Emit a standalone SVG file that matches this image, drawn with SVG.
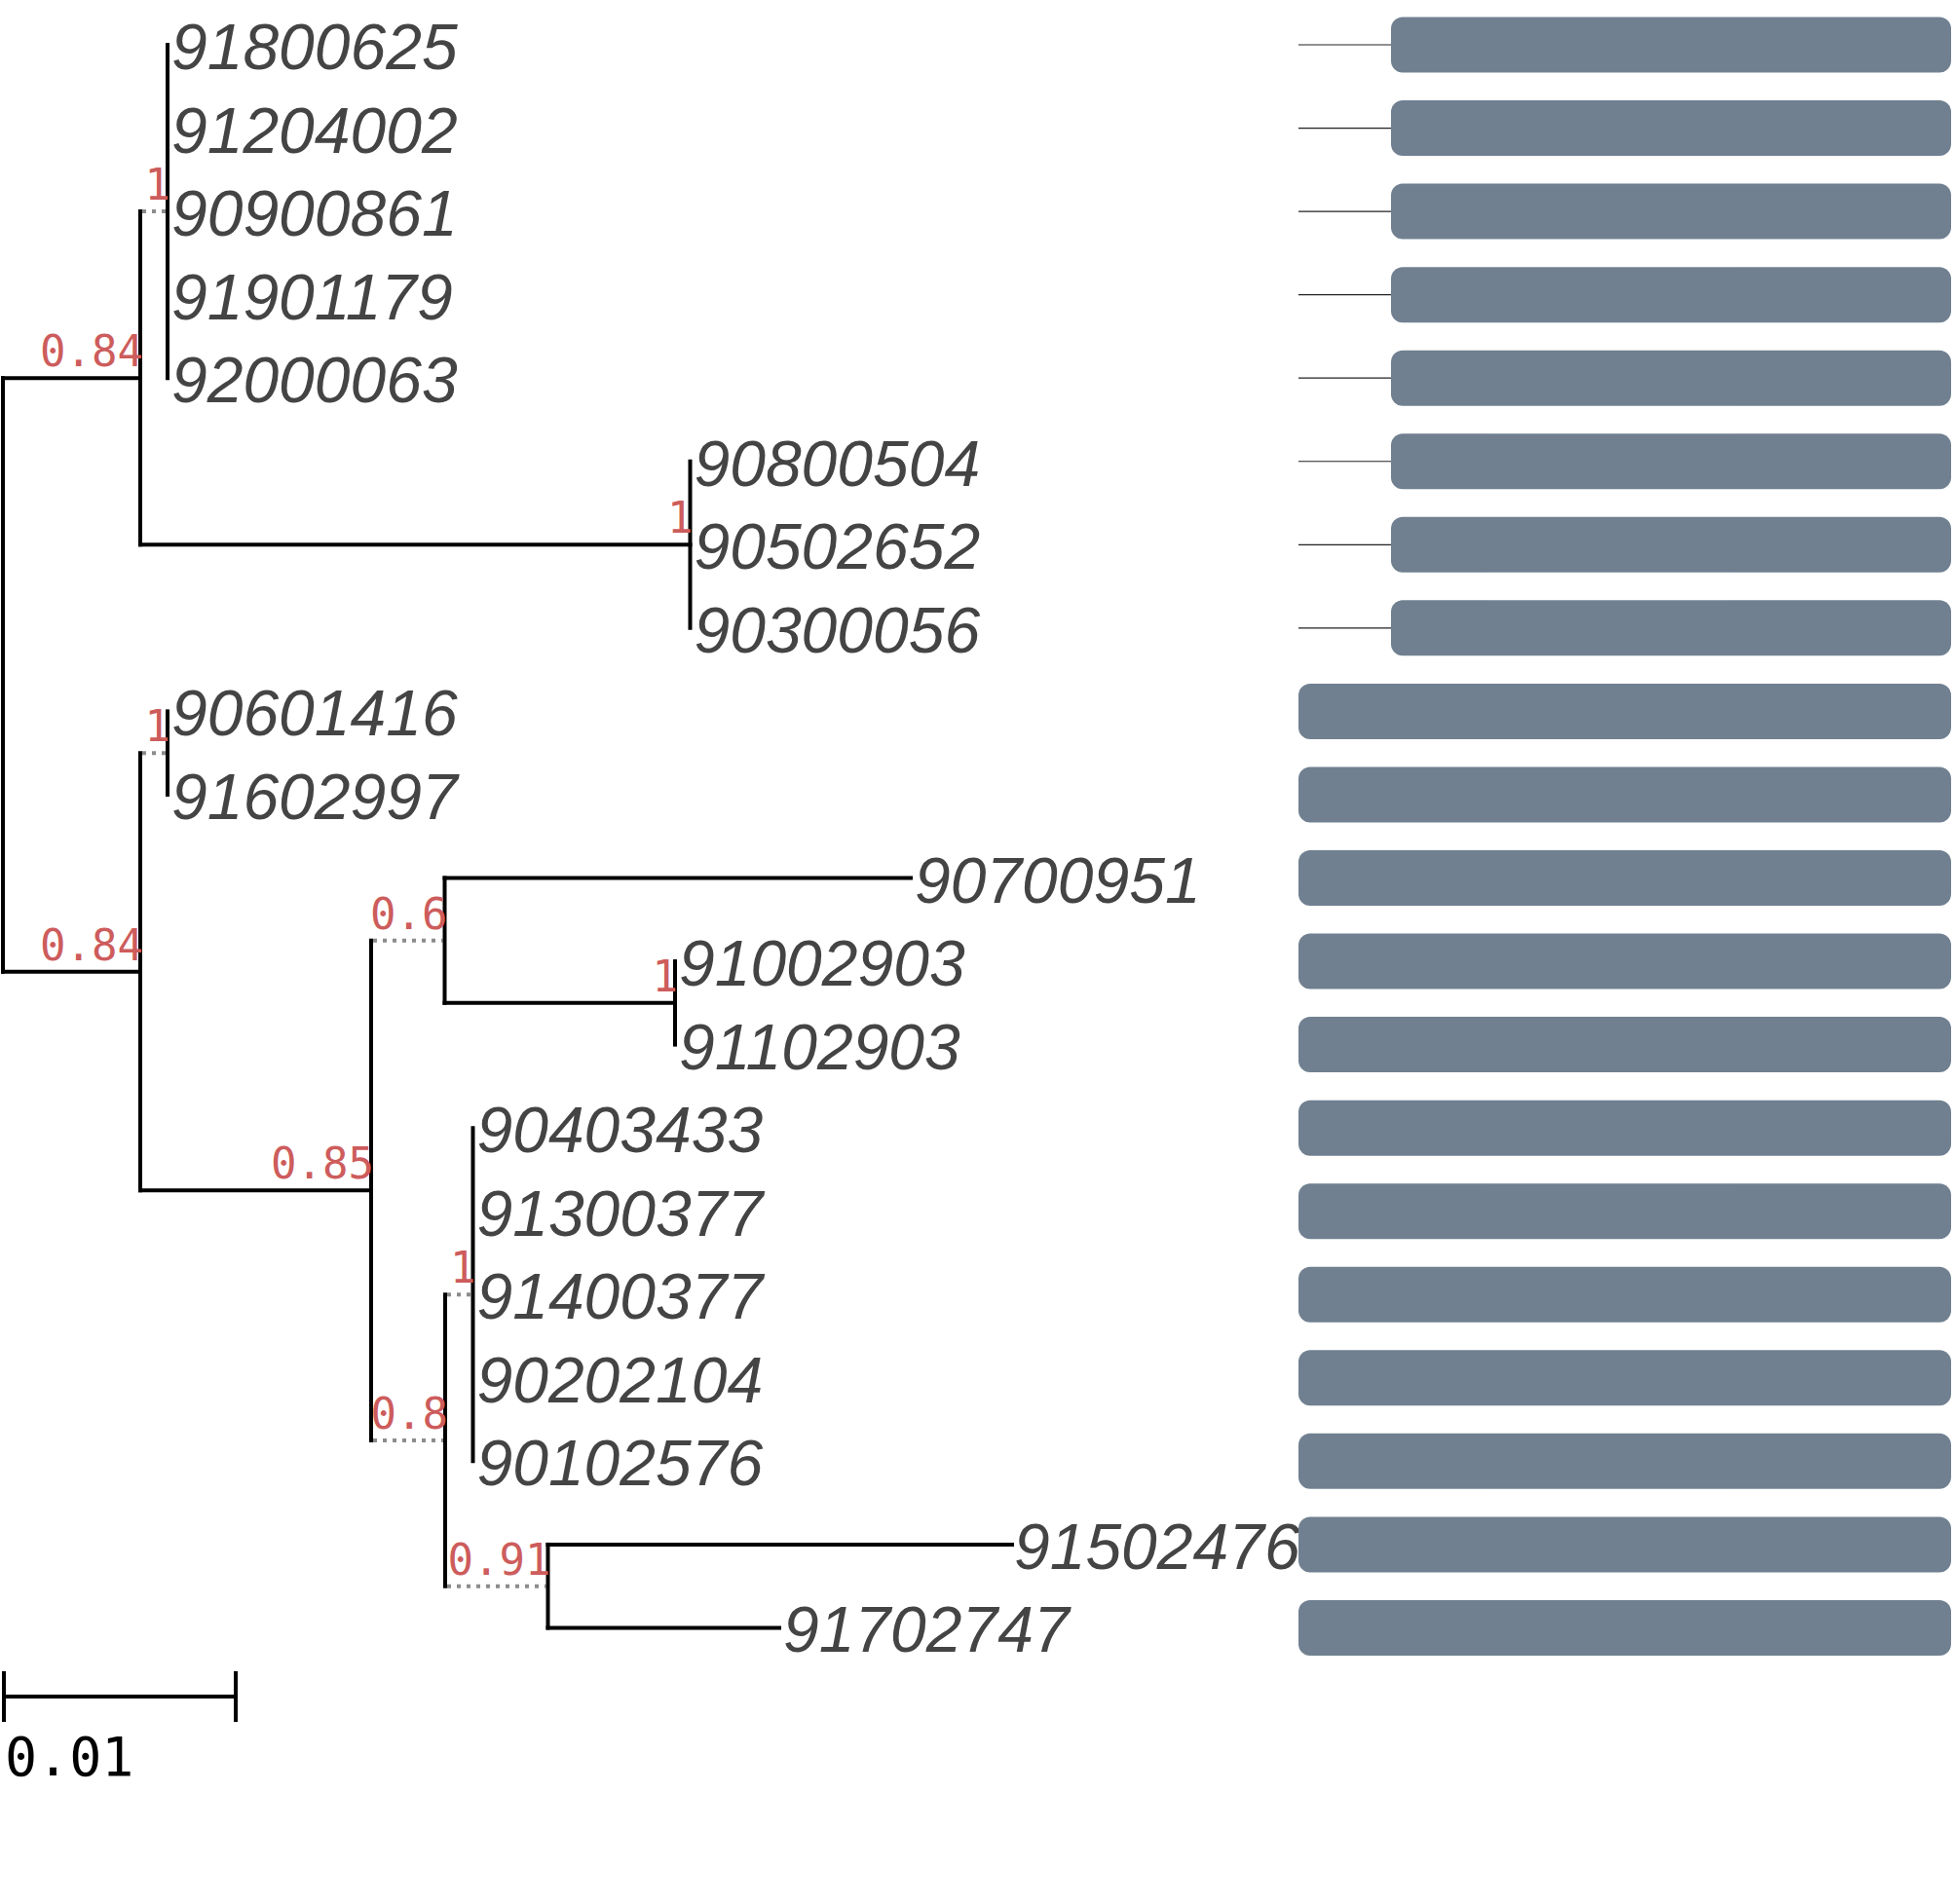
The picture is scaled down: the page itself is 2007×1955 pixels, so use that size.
<svg xmlns="http://www.w3.org/2000/svg" width="2007" height="1955" viewBox="0 0 2007 1955">
<style>
.br{stroke:#000;stroke-width:4;fill:none;stroke-linecap:square}
.dt{stroke:#8c8c8c;stroke-width:4;fill:none;stroke-dasharray:4,6}
.lf{font-family:"Liberation Sans",Arial,sans-serif;font-style:italic;font-size:66px;fill:#444}
.sp{font-family:"DejaVu Sans Mono",monospace;font-size:44px;fill:#cd5c5c;text-anchor:end}
.bx{fill:#708090}
.cn{stroke:#222;stroke-width:1.2}
.sc{font-family:"DejaVu Sans Mono",monospace;font-size:55px;fill:#000}
</style>
<rect width="2007" height="1955" fill="#fff"/>
<g id="connectors">
<line class="br" x1="3" y1="388.2" x2="3" y2="997.8"/>
<line class="br" x1="3" y1="388.2" x2="144" y2="388.2"/>
<line class="br" x1="3" y1="997.8" x2="144" y2="997.8"/>
<line class="br" x1="144" y1="217.1" x2="144" y2="559.3"/>
<line class="dt" x1="146" y1="217.1" x2="170" y2="217.1"/>
<line class="br" x1="172" y1="46" x2="172" y2="388.2"/>
<line class="br" x1="144" y1="559.3" x2="708.5" y2="559.3"/>
<line class="br" x1="708.5" y1="473.75" x2="708.5" y2="644.85"/>
<line class="br" x1="144" y1="773.2" x2="144" y2="1222.3"/>
<line class="dt" x1="146" y1="773.2" x2="170" y2="773.2"/>
<line class="br" x1="172" y1="730.4" x2="172" y2="815.95"/>
<line class="br" x1="144" y1="1222.3" x2="381" y2="1222.3"/>
<line class="br" x1="381" y1="965.7" x2="381" y2="1479"/>
<line class="dt" x1="383" y1="965.7" x2="454.5" y2="965.7"/>
<line class="br" x1="456.5" y1="901.5" x2="456.5" y2="1029.8"/>
<line class="br" x1="456.5" y1="901.5" x2="935" y2="901.5"/>
<line class="br" x1="456.5" y1="1029.8" x2="693" y2="1029.8"/>
<line class="br" x1="693" y1="987.05" x2="693" y2="1072.6"/>
<line class="dt" x1="383" y1="1479" x2="455" y2="1479"/>
<line class="br" x1="457" y1="1329.25" x2="457" y2="1628.7"/>
<line class="dt" x1="459" y1="1329.25" x2="483.5" y2="1329.25"/>
<line class="br" x1="485.5" y1="1158.15" x2="485.5" y2="1500.35"/>
<line class="dt" x1="459" y1="1628.7" x2="560.5" y2="1628.7"/>
<line class="br" x1="562.5" y1="1585.9" x2="562.5" y2="1671.45"/>
<line class="br" x1="562.5" y1="1585.9" x2="1039" y2="1585.9"/>
<line class="br" x1="562.5" y1="1671.45" x2="800" y2="1671.45"/>
<line class="cn" x1="1333" y1="46" x2="1428" y2="46"/>
<line class="cn" x1="1333" y1="131.55" x2="1428" y2="131.55"/>
<line class="cn" x1="1333" y1="217.1" x2="1428" y2="217.1"/>
<line class="cn" x1="1333" y1="302.65" x2="1428" y2="302.65"/>
<line class="cn" x1="1333" y1="388.2" x2="1428" y2="388.2"/>
<line class="cn" x1="1333" y1="473.75" x2="1428" y2="473.75"/>
<line class="cn" x1="1333" y1="559.3" x2="1428" y2="559.3"/>
<line class="cn" x1="1333" y1="644.85" x2="1428" y2="644.85"/>
</g>
<g id="support-labels">
<text class="sp" x="147" y="376.2">0.84</text>
<text class="sp" x="175" y="205.1">1</text>
<text class="sp" x="711.5" y="547.3">1</text>
<text class="sp" x="147" y="985.8">0.84</text>
<text class="sp" x="175" y="761.2">1</text>
<text class="sp" x="384" y="1210.3">0.85</text>
<text class="sp" x="459.5" y="953.7">0.6</text>
<text class="sp" x="696" y="1017.8">1</text>
<text class="sp" x="460" y="1467">0.8</text>
<text class="sp" x="488.5" y="1317.25">1</text>
<text class="sp" x="565.5" y="1616.7">0.91</text>
</g>
<g id="leaf-91800625"><text class="lf" x="176" y="71">91800625</text><rect class="bx" x="1428" y="17.5" width="575" height="57" rx="12"/></g>
<g id="leaf-91204002"><text class="lf" x="176" y="156.55">91204002</text><rect class="bx" x="1428" y="103.05" width="575" height="57" rx="12"/></g>
<g id="leaf-90900861"><text class="lf" x="176" y="242.1">90900861</text><rect class="bx" x="1428" y="188.6" width="575" height="57" rx="12"/></g>
<g id="leaf-91901179"><text class="lf" x="176" y="327.65">91901179</text><rect class="bx" x="1428" y="274.15" width="575" height="57" rx="12"/></g>
<g id="leaf-92000063"><text class="lf" x="176" y="413.2">92000063</text><rect class="bx" x="1428" y="359.7" width="575" height="57" rx="12"/></g>
<g id="leaf-90800504"><text class="lf" x="712.5" y="498.75">90800504</text><rect class="bx" x="1428" y="445.25" width="575" height="57" rx="12"/></g>
<g id="leaf-90502652"><text class="lf" x="712.5" y="584.3">90502652</text><rect class="bx" x="1428" y="530.8" width="575" height="57" rx="12"/></g>
<g id="leaf-90300056"><text class="lf" x="712.5" y="669.85">90300056</text><rect class="bx" x="1428" y="616.35" width="575" height="57" rx="12"/></g>
<g id="leaf-90601416"><text class="lf" x="176" y="755.4">90601416</text><rect class="bx" x="1333" y="701.9" width="670" height="57" rx="12"/></g>
<g id="leaf-91602997"><text class="lf" x="176" y="840.95">91602997</text><rect class="bx" x="1333" y="787.45" width="670" height="57" rx="12"/></g>
<g id="leaf-90700951"><text class="lf" x="939" y="926.5">90700951</text><rect class="bx" x="1333" y="873" width="670" height="57" rx="12"/></g>
<g id="leaf-91002903"><text class="lf" x="697" y="1012.05">91002903</text><rect class="bx" x="1333" y="958.55" width="670" height="57" rx="12"/></g>
<g id="leaf-91102903"><text class="lf" x="697" y="1097.6">91102903</text><rect class="bx" x="1333" y="1044.1" width="670" height="57" rx="12"/></g>
<g id="leaf-90403433"><text class="lf" x="489.5" y="1183.15">90403433</text><rect class="bx" x="1333" y="1129.65" width="670" height="57" rx="12"/></g>
<g id="leaf-91300377"><text class="lf" x="489.5" y="1268.7">91300377</text><rect class="bx" x="1333" y="1215.2" width="670" height="57" rx="12"/></g>
<g id="leaf-91400377"><text class="lf" x="489.5" y="1354.25">91400377</text><rect class="bx" x="1333" y="1300.75" width="670" height="57" rx="12"/></g>
<g id="leaf-90202104"><text class="lf" x="489.5" y="1439.8">90202104</text><rect class="bx" x="1333" y="1386.3" width="670" height="57" rx="12"/></g>
<g id="leaf-90102576"><text class="lf" x="489.5" y="1525.35">90102576</text><rect class="bx" x="1333" y="1471.85" width="670" height="57" rx="12"/></g>
<g id="leaf-91502476"><text class="lf" x="1041" y="1610.9">91502476</text><rect class="bx" x="1333" y="1557.4" width="670" height="57" rx="12"/></g>
<g id="leaf-91702747"><text class="lf" x="804" y="1696.45">91702747</text><rect class="bx" x="1333" y="1642.95" width="670" height="57" rx="12"/></g>
<g id="scale-bar">
<line class="br" x1="4" y1="1742" x2="242" y2="1742" style="stroke-linecap:butt"/>
<line class="br" x1="4" y1="1716" x2="4" y2="1768" style="stroke-linecap:butt"/>
<line class="br" x1="242" y1="1716" x2="242" y2="1768" style="stroke-linecap:butt"/>
<text class="sc" x="5" y="1823">0.01</text>
</g>
</svg>
